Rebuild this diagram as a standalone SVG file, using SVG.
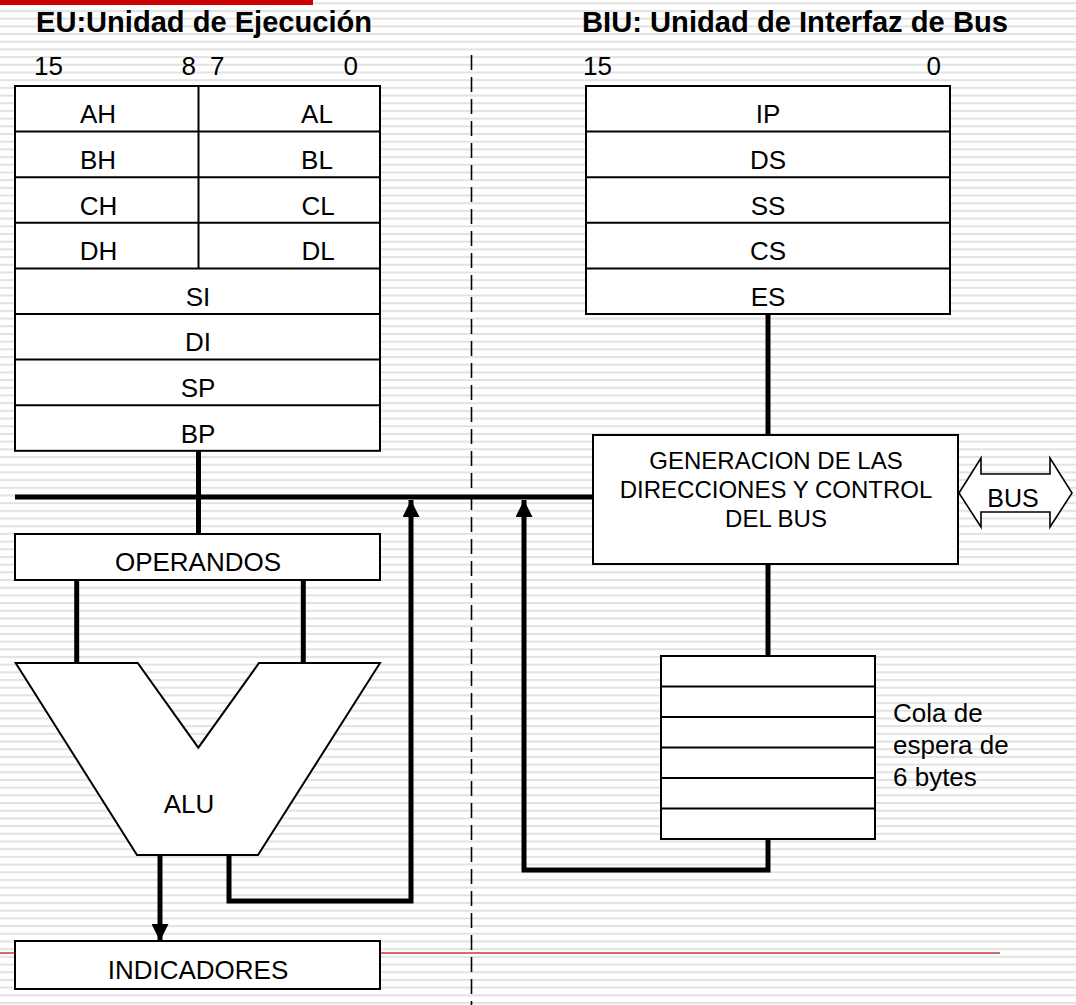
<svg xmlns="http://www.w3.org/2000/svg" width="1076" height="1005" viewBox="0 0 1076 1005">
  <defs>
    <pattern id="stripes" patternUnits="userSpaceOnUse" width="1076" height="7.69" y="2.3">
      <rect x="0" y="0" width="1076" height="2" fill="#e2e2e2"/>
    </pattern>
    <marker id="ah" viewBox="0 0 10 10" refX="10" refY="5" markerWidth="3.4" markerHeight="3.4" markerUnits="strokeWidth" orient="auto">
      <path d="M0,0 L10,5 L0,10 z" fill="#000"/>
    </marker>
    <style>
      .box { fill: #fff; stroke: #000; stroke-width: 2; }
      .sep { stroke: #000; stroke-width: 2; fill: none; }
      .lbl { font-family: "Liberation Sans", Arial, sans-serif; font-size: 26px; fill: #000; }
      .mid { text-anchor: middle; }
      .end { text-anchor: end; }
      .title { font-family: "Liberation Sans", Arial, sans-serif; font-size: 29px; font-weight: bold; fill: #000; }
      .small { font-family: "Liberation Sans", Arial, sans-serif; font-size: 24px; fill: #000; text-anchor: middle; }
      .wire { stroke: #000; stroke-width: 5; fill: none; }
    </style>
  </defs>

  <!-- background -->
  <rect x="0" y="0" width="1076" height="1005" fill="#fff"/>
  <rect x="0" y="0" width="1076" height="1005" fill="url(#stripes)"/>
  <line x1="0" y1="953" x2="1000" y2="953" stroke="#d46a6a" stroke-width="2"/>
  <rect x="0" y="0" width="313" height="5" fill="#cc0000"/>
  <line x1="471.5" y1="55" x2="471.5" y2="1005" stroke="#000" stroke-width="1.6" stroke-dasharray="15 7"/>

  <!-- titles -->
  <text class="title" x="36" y="32" textLength="336" lengthAdjust="spacingAndGlyphs">EU:Unidad de Ejecución</text>
  <text class="title" x="582" y="32" textLength="426" lengthAdjust="spacingAndGlyphs">BIU: Unidad de Interfaz de Bus</text>

  <!-- bit numbers -->
  <g id="bits">
    <text class="lbl" x="34" y="75">15</text>
    <text class="lbl end" x="196" y="75">8</text>
    <text class="lbl" x="210" y="75">7</text>
    <text class="lbl end" x="358" y="75">0</text>
    <text class="lbl" x="583" y="75">15</text>
    <text class="lbl end" x="941" y="75">0</text>
  </g>

  <!-- connectors -->
  <g id="connectors">
    <line class="wire" x1="15" y1="497" x2="594" y2="497"/>
    <line class="wire" x1="198.5" y1="451" x2="198.5" y2="534"/>
    <line class="wire" x1="76.7" y1="580" x2="76.7" y2="663"/>
    <line class="wire" x1="303.3" y1="580" x2="303.3" y2="663"/>
    <line class="wire" x1="768" y1="314" x2="768" y2="435"/>
    <line class="wire" x1="768" y1="564" x2="768" y2="656"/>
    <polyline class="wire" points="768,839 768,870 524,870 524,500" marker-end="url(#ah)"/>
    <polyline class="wire" points="229,855 229,901 411,901 411,500" marker-end="url(#ah)"/>
    <line class="wire" x1="160" y1="855" x2="160" y2="941" marker-end="url(#ah)"/>
  </g>

  <!-- EU register file -->
  <g id="eu-registers">
    <rect class="box" x="15" y="86" width="365" height="364.8"/>
    <line class="sep" x1="198.5" y1="86" x2="198.5" y2="268.4"/>
    <line class="sep" x1="15" y1="131.6" x2="380" y2="131.6"/>
    <line class="sep" x1="15" y1="177.2" x2="380" y2="177.2"/>
    <line class="sep" x1="15" y1="222.8" x2="380" y2="222.8"/>
    <line class="sep" x1="15" y1="268.4" x2="380" y2="268.4"/>
    <line class="sep" x1="15" y1="314" x2="380" y2="314"/>
    <line class="sep" x1="15" y1="359.6" x2="380" y2="359.6"/>
    <line class="sep" x1="15" y1="405.2" x2="380" y2="405.2"/>
    <text class="lbl mid" x="98" y="123.3">AH</text>
    <text class="lbl mid" x="317" y="123.3">AL</text>
    <text class="lbl mid" x="98" y="168.9">BH</text>
    <text class="lbl mid" x="317" y="168.9">BL</text>
    <text class="lbl mid" x="98.5" y="214.5">CH</text>
    <text class="lbl mid" x="318" y="214.5">CL</text>
    <text class="lbl mid" x="98.5" y="260.1">DH</text>
    <text class="lbl mid" x="318" y="260.1">DL</text>
    <text class="lbl mid" x="198" y="305.7">SI</text>
    <text class="lbl mid" x="198" y="351.3">DI</text>
    <text class="lbl mid" x="198" y="396.9">SP</text>
    <text class="lbl mid" x="198" y="442.5">BP</text>
  </g>

  <!-- BIU segment registers -->
  <g id="biu-registers">
    <rect class="box" x="586" y="86" width="364" height="228"/>
    <line class="sep" x1="586" y1="131.6" x2="950" y2="131.6"/>
    <line class="sep" x1="586" y1="177.2" x2="950" y2="177.2"/>
    <line class="sep" x1="586" y1="222.8" x2="950" y2="222.8"/>
    <line class="sep" x1="586" y1="268.4" x2="950" y2="268.4"/>
    <text class="lbl mid" x="768" y="123.3">IP</text>
    <text class="lbl mid" x="768" y="168.9">DS</text>
    <text class="lbl mid" x="768" y="214.5">SS</text>
    <text class="lbl mid" x="768" y="260.1">CS</text>
    <text class="lbl mid" x="768" y="305.7">ES</text>
  </g>

  <!-- Operandos -->
  <g id="operandos">
    <rect class="box" x="15" y="534" width="365" height="46"/>
    <text class="lbl mid" x="198" y="570.5">OPERANDOS</text>
  </g>

  <!-- ALU -->
  <g id="alu">
    <polygon class="box" points="15.7,663 137.7,663 198.3,747.7 259,663 380,663 258,855 137,855"/>
    <text class="lbl mid" x="189" y="813">ALU</text>
  </g>

  <!-- Indicadores -->
  <g id="indicadores">
    <rect class="box" x="15" y="941" width="365" height="48"/>
    <text class="lbl mid" x="198" y="979">INDICADORES</text>
  </g>

  <!-- Generacion -->
  <g id="generacion">
    <rect class="box" x="593" y="435" width="365" height="129"/>
    <text class="small" x="776" y="469">GENERACION DE LAS</text>
    <text class="small" x="776" y="498">DIRECCIONES Y CONTROL</text>
    <text class="small" x="776" y="527">DEL BUS</text>
  </g>

  <!-- BUS double arrow -->
  <g id="bus">
    <polygon points="959,493 981,458 981,474 1050,474 1050,458 1072,493 1050,527 1050,512 981,512 981,527" fill="#fff" stroke="#000" stroke-width="1.6"/>
    <text class="lbl mid" x="1013" y="507" style="font-size:25px">BUS</text>
  </g>

  <!-- Queue -->
  <g id="cola">
    <rect class="box" x="661" y="656" width="214" height="183"/>
    <line class="sep" x1="661" y1="686.5" x2="875" y2="686.5"/>
    <line class="sep" x1="661" y1="717" x2="875" y2="717"/>
    <line class="sep" x1="661" y1="747.5" x2="875" y2="747.5"/>
    <line class="sep" x1="661" y1="778" x2="875" y2="778"/>
    <line class="sep" x1="661" y1="808.5" x2="875" y2="808.5"/>
    <text class="lbl" x="893" y="722">Cola de</text>
    <text class="lbl" x="893" y="754">espera de</text>
    <text class="lbl" x="893" y="786">6 bytes</text>
  </g>
</svg>
